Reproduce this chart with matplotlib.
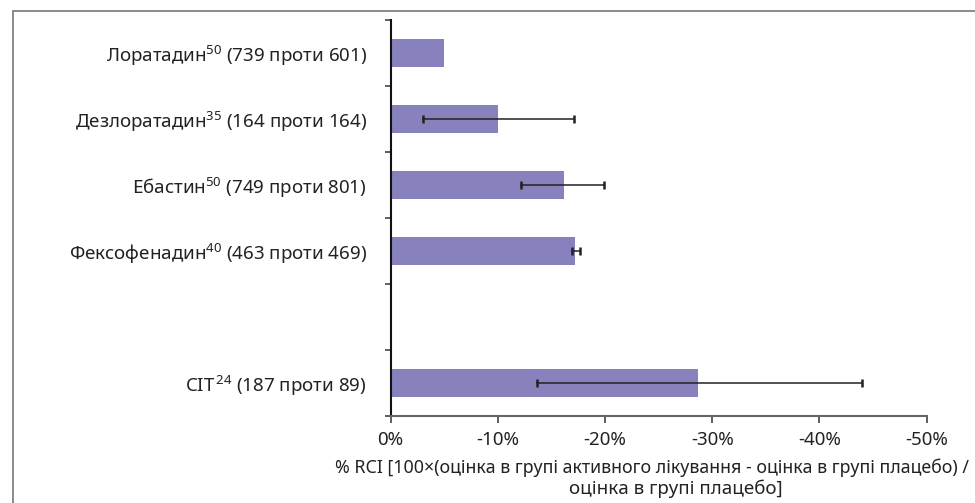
import matplotlib
matplotlib.use("Agg")
import matplotlib.pyplot as plt
from matplotlib.patches import Rectangle

plt.rcParams['font.family'] = ['Noto Sans', 'DejaVu Sans']
plt.rcParams['mathtext.fontset'] = 'custom'
plt.rcParams['mathtext.rm'] = 'Noto Sans'
plt.rcParams['mathtext.it'] = 'Noto Sans'

# Data (top to bottom); empty slot between Fexofenadine and CIT
drugs = ['Лоратадин', 'Дезлоратадин', 'Ебастин', 'Фексофенадин', '', 'CIT']
refs = ['50', '35', '50', '40', '', '24']
counts = ['(739 проти 601)', '(164 проти 164)', '(749 проти 801)',
          '(463 проти 469)', '', '(187 проти 89)']
values = [-5.0, -10.0, -16.2, -17.2, None, -28.7]
ci_low = [None, -3.0, -12.2, -16.9, None, -13.7]
ci_high = [None, -17.1, -19.9, -17.7, None, -44.0]
xticks = [0, -10, -20, -30, -40, -50]
xticklabels = ['0%', '-10%', '-20%', '-30%', '-40%', '-50%']
xlabel_line1 = '% RCI [100×(оцінка в групі активного лікування - оцінка в групі плацебо) /'
xlabel_line2 = 'оцінка в групі плацебо]'

W, H = 975, 503
FS = 13.5
fig = plt.figure(figsize=(W / 100, H / 100), dpi=100)
ax = fig.add_axes([390.5 / W, 1 - 416 / H, (926.7 - 390.5) / W, (416 - 20) / H])

n = len(drugs)
ypos = list(range(n))
bar_color = '#8781BD'
for i in range(n):
    if values[i] is None:
        continue
    ax.barh(i, values[i], height=0.41, color=bar_color, zorder=2)
    if ci_low[i] is not None:
        ax.plot([ci_low[i], ci_high[i]], [i, i], color='#222222', lw=1.1, zorder=3)
        for c in (ci_low[i], ci_high[i]):
            ax.plot([c, c], [i - 0.06, i + 0.06], color='#222222', lw=1.8, zorder=3,
                    solid_capstyle='butt')

ax.set_xlim(0, -50)
ax.set_ylim(n - 0.5, -0.5)

labels = []
for d, r, c in zip(drugs, refs, counts):
    if d == '':
        labels.append('')
    elif d == 'CIT':
        labels.append(d + r'$^{\,' + r + '}$ ' + c)
    else:
        labels.append(d + r'$^{' + r + '}$ ' + c)
ax.set_yticks(ypos)
ax.set_yticklabels(labels, fontsize=FS, color='#222222')
ax.tick_params(axis='y', which='major', length=0, pad=17)
ax.set_yticks([i - 0.5 for i in range(n + 1)], minor=True)
ax.tick_params(axis='y', which='minor', length=4, width=1.2, color='#444444', direction='out')

ax.set_xticks(xticks)
ax.set_xticklabels(xticklabels, fontsize=FS, color='#222222')
ax.tick_params(axis='x', length=5, width=1.2, color='#444444', direction='out', pad=6)

for s in ('top', 'right'):
    ax.spines[s].set_visible(False)
ax.spines['left'].set_color('#111111')
ax.spines['left'].set_linewidth(1.5)
ax.spines['bottom'].set_color('#666666')
ax.spines['bottom'].set_linewidth(1.5)

fig.text(969 / W, 1 - 468 / H, xlabel_line1, ha='right', va='center', fontsize=12.8,
         color='#222222')
fig.text(676 / W, 1 - 489 / H, xlabel_line2, ha='center', va='center', fontsize=FS,
         color='#222222')

# outer frame
fig.patches.append(Rectangle((13 / W, -0.1), 1.2, 1 - 11 / H + 0.1, transform=fig.transFigure,
                             fill=False, edgecolor='#777777', lw=1.2))

fig.savefig('out.png', dpi=100)
